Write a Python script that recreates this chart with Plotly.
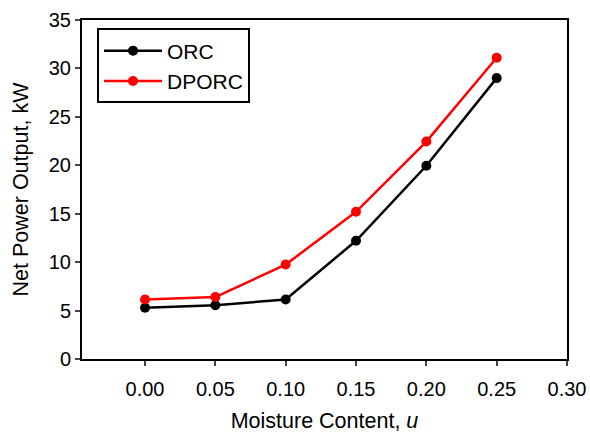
import plotly.graph_objects as go

moisture = [0.00, 0.05, 0.10, 0.15, 0.20, 0.25]
orc = [5.3, 5.55, 6.15, 12.2, 19.95, 29.0]
dporc = [6.15, 6.4, 9.75, 15.2, 22.45, 31.1]

fig = go.Figure()
fig.add_trace(go.Scatter(x=moisture, y=orc, mode="lines+markers", name="ORC",
                         line=dict(color="black", width=2.5),
                         marker=dict(color="black", size=10)))
fig.add_trace(go.Scatter(x=moisture, y=dporc, mode="lines+markers", name="DPORC",
                         line=dict(color="red", width=2.5),
                         marker=dict(color="red", size=10)))

fig.update_layout(
    width=590, height=434,
    margin=dict(l=82, r=23, t=20, b=75),
    plot_bgcolor="white", paper_bgcolor="white",
    font=dict(family="Liberation Sans, Arial, sans-serif", size=20, color="black"),
    showlegend=True,
    legend=dict(x=0.031, y=0.975, xanchor="left", yanchor="top",
                bordercolor="black", borderwidth=2, bgcolor="white",
                font=dict(size=21), itemwidth=58, tracegroupgap=0),
    xaxis=dict(range=[-0.0448, 0.30], tickvals=[0, 0.05, 0.10, 0.15, 0.20, 0.25, 0.30],
               tickformat=".2f", ticks="outside", ticklen=5, tickwidth=2,
               showline=True, linecolor="black", linewidth=2, mirror=True,
               showgrid=False, zeroline=False, ticklabelstandoff=6, automargin=False,
               title=dict(text="Moisture Content, <i>u</i>", standoff=14, font=dict(size=21.5))),
    yaxis=dict(range=[0, 35], dtick=5, ticks="outside", ticklen=5, tickwidth=2,
               showline=True, linecolor="black", linewidth=2, mirror=True,
               showgrid=False, zeroline=False, automargin=False,
               title=dict(text="Net Power Output, kW", standoff=14, font=dict(size=21.5))),
)

fig.write_html("out.html", config={"displayModeBar": False},
               post_script="document.body.style.margin='0';")
